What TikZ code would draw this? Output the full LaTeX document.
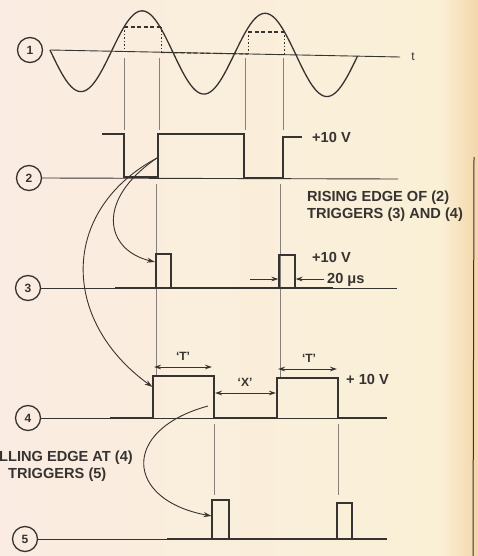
\documentclass[tikz,border=0pt]{standalone}
\usepackage{fontspec}
\setmainfont{Liberation Sans}
\usetikzlibrary{arrows.meta}
\definecolor{ink}{RGB}{55,51,48}
\definecolor{guidec}{RGB}{135,128,120}
\definecolor{bgL}{RGB}{250,236,226}
\definecolor{bgR}{RGB}{250,240,214}
\definecolor{bgE}{RGB}{244,214,170}
\tikzset{
  sig/.style={draw=ink, line width=1.3pt, line join=miter},
  lowthick/.style={draw=ink, line width=2.4pt},
  axisline/.style={draw=ink, line width=0.9pt},
  guide/.style={draw=guidec, line width=0.45pt},
  numc/.style={circle, draw=ink, line width=1.3pt, minimum size=25pt, inner sep=0pt, text=ink, font=\bfseries\fontsize{12}{12}\selectfont},
  lbl/.style={text=ink, inner sep=0pt, font=\bfseries\fontsize{14.6}{16}\selectfont},
  smalllbl/.style={text=ink, inner sep=0pt, font=\bfseries\fontsize{12}{12}\selectfont},
  trig/.style={draw=ink, line width=0.9pt, -{Stealth[length=8pt,width=5pt]}},
  dimarrow/.style={draw=ink, line width=0.8pt, {Stealth[length=7pt,width=4.5pt]}-{Stealth[length=7pt,width=4.5pt]}},
  sidearrow/.style={draw=ink, line width=0.8pt, -{Stealth[length=7pt,width=4.5pt]}},
  dashln/.style={draw=ink, line width=1.1pt, dash pattern=on 4pt off 2.5pt},
  dotln/.style={draw=ink, line width=1pt, dash pattern=on 1.5pt off 2pt}
}
\begin{document}
\begin{tikzpicture}[x=1pt,y=-1pt]
\useasboundingbox (0,0) rectangle (478,556);
\shade[left color=bgL, right color=bgR] (0,0) rectangle (440,556);
\shade[left color=bgR, right color=bgE] (440,0) rectangle (478,556);
\draw[draw=ink, line width=1pt] (474,157) -- (473,556);

% ---------- signal 1 ----------
\node[numc] (c1) at (30,50) {1};
\coordinate (ax0) at (50,50);
\coordinate (ax1) at (400,57);
\draw[axisline] (ax0) -- (ax1);
\node[text=ink, font=\fontsize{12}{12}\selectfont] (t) at (413,57) {t};
\draw[sig] plot[domain=50:357.5, samples=160, smooth] (\x, {50 + (\x-50)*0.02 + 41*sin((\x-50)*2.926829)});
\draw[dashln] (124,27) -- (161,27);
\draw[dotln] (124,27) -- (124,52);
\draw[dotln] (161,27) -- (161,52);
\draw[dashln] (161,52.5) -- (248,54);
\draw[dashln] (248,32) -- (284,32);
\draw[dotln] (248,32) -- (248,54);
\draw[dotln] (284,32) -- (284,55);

% guides 1 -> 2
\draw[guide] (124,58) -- (124,130);
\draw[guide] (159,58) -- (159,130);
\draw[guide] (245,58) -- (245,130);
\draw[guide] (283,58) -- (283,130);

% ---------- signal 2 ----------
\node[numc] (c2) at (29,178) {2};
\coordinate (b2) at (398,179);
\draw[axisline] (c2.east) -- (b2);
\draw[sig] (102,134) -- (124,134) -- (124,177) -- (158,177) -- (158,134) -- (244,134) -- (244,178) -- (283,178) -- (283,137) -- (302,137);
\draw[lowthick] (124,177) -- (158,177);
\draw[lowthick] (244,178) -- (283,178);
\node[lbl, anchor=west] (v2) at (312,137) {+10 V};
\node[lbl, anchor=west] (rise1) at (307,198) {RISING EDGE OF (2)};
\node[lbl, anchor=west] (rise2) at (307,215) {TRIGGERS (3) AND (4)};

% guides 2 -> 3 -> 4
\draw[guide] (156,184) -- (156,376);
\draw[guide] (280,184) -- (280,378);

% ---------- signal 3 ----------
\node[numc] (c3) at (28,288) {3};
\coordinate (b3) at (397,288);
\draw[axisline] (c3.east) -- (b3);
\draw[lowthick] (115,288) -- (333,288);
\draw[sig] (156,288) -- (156,254) -- (171,254) -- (171,288);
\draw[sig] (279,288) -- (279,255) -- (295,255) -- (295,288);
\node[lbl, anchor=west] (v3) at (312,257) {+10 V};
\coordinate (wl) at (250,279);
\coordinate (wle) at (278.5,279);
\coordinate (wr) at (324,279);
\coordinate (wre) at (295.5,279);
\draw[sidearrow] (wl) -- (wle);
\draw[sidearrow] (wr) -- (wre);
\node[lbl, anchor=west] (w20) at (327,280) {20 μs};

% ---------- signal 4 ----------
\node[numc] (c4) at (28,418) {4};
\coordinate (b4) at (387,418);
\draw[axisline] (c4.east) -- (b4);
\draw[lowthick] (110,418) -- (153,418);
\draw[lowthick] (214,418) -- (277,418);
\draw[lowthick] (338,418) -- (387,418);
\draw[sig] (153,418) -- (153,376) -- (214,376) -- (214,418);
\draw[sig] (277,418) -- (277,378) -- (338,378) -- (338,418);
\coordinate (t1a) at (154,367); \coordinate (t1b) at (212,367);
\coordinate (t2a) at (278,369); \coordinate (t2b) at (337,369);
\coordinate (xa) at (215,393); \coordinate (xb) at (276,393);
\draw[dimarrow] (t1a) -- (t1b);
\draw[dimarrow] (t2a) -- (t2b);
\draw[dimarrow] (xa) -- (xb);
\node[smalllbl] (tl1) at (183,356) {`T'};
\node[smalllbl] (tl2) at (309,358) {`T'};
\node[smalllbl] (xl) at (245,382) {`X'};
\node[lbl, anchor=west] (v4) at (346,379) {+ 10 V};

% guides 4 -> 5
\draw[guide] (214,424) -- (214,495);
\draw[guide] (338,424) -- (338,495);

% ---------- signal 5 ----------
\node[numc] (c5) at (25,539) {5};
\coordinate (b5) at (387,539);
\draw[axisline] (c5.east) -- (b5);
\draw[lowthick] (167,539) -- (387,539);
\draw[sig] (212,539) -- (212,500) -- (229,500) -- (229,539);
\draw[sig] (337,539) -- (337,503) -- (352,503) -- (352,539);
\node[lbl, anchor=west] (fall1) at (-1,458) {LLING EDGE AT (4)};
\node[lbl, anchor=west] (fall2) at (8,475) {TRIGGERS (5)};

% ---------- trigger curves ----------
\coordinate (re2) at (157,158);
\coordinate (p3) at (155,262);
\coordinate (p4) at (152.5,387);
\coordinate (fe4) at (208,406);
\coordinate (p5) at (211.5,516);
\draw[trig] (re2) .. controls (95,200) and (105,250) .. (p3);
\draw[trig] (re2) .. controls (60,210) and (60,320) .. (p4);
\draw[trig] (fe4) .. controls (120,430) and (125,500) .. (p5);
\end{tikzpicture}
\end{document}
